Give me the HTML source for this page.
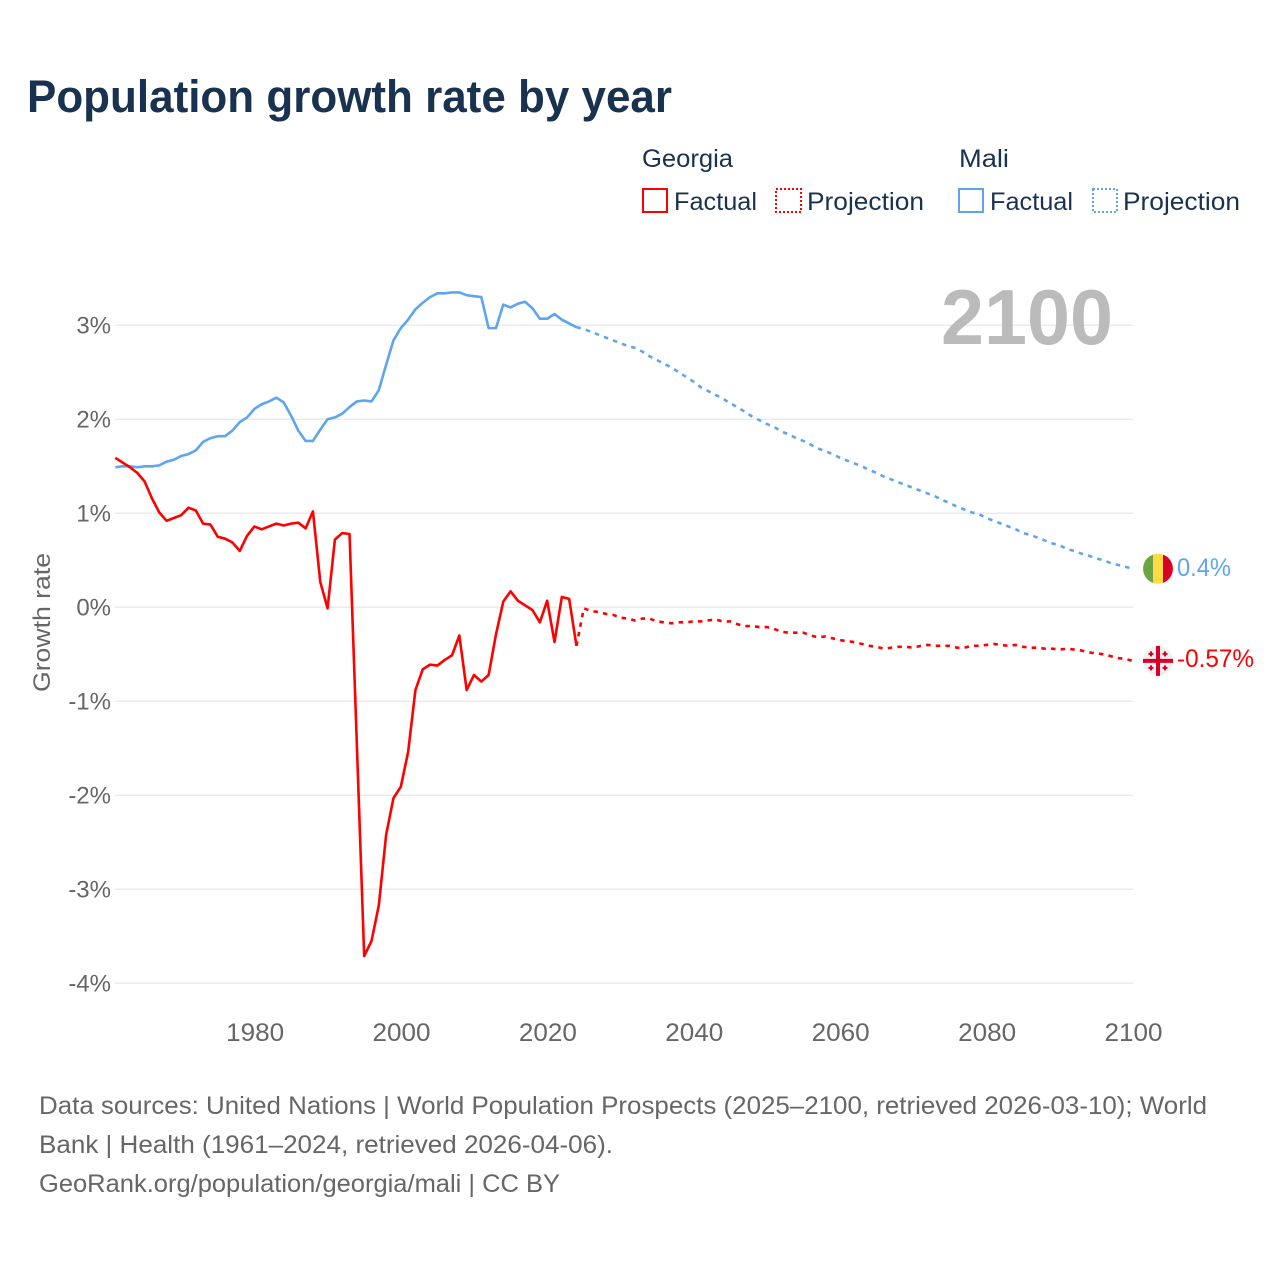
<!DOCTYPE html>
<html lang="en">
<head>
<meta charset="utf-8">
<title>Population growth rate by year</title>
<style>
html,body{margin:0;padding:0;background:#fff;}
svg{display:block;font-family:"Liberation Sans",sans-serif;}
</style>
</head>
<body>
<svg id="chart" width="1280" height="1280" viewBox="0 0 1280 1280" xmlns="http://www.w3.org/2000/svg">
  <rect x="0" y="0" width="1280" height="1280" fill="#ffffff"/>
  <text x="27" y="112" font-size="45" font-weight="bold" fill="#18324f" textLength="645" lengthAdjust="spacingAndGlyphs">Population growth rate by year</text>

  <g font-size="25" fill="#18324f">
    <text x="642" y="167" textLength="91" lengthAdjust="spacingAndGlyphs">Georgia</text>
    <text x="959" y="167" textLength="50" lengthAdjust="spacingAndGlyphs">Mali</text>
    <g>
      <rect x="643" y="189" width="24" height="23" fill="none" stroke="#ff0000" stroke-width="2"/>
      <text x="674" y="210" textLength="83" lengthAdjust="spacingAndGlyphs">Factual</text>
    </g>
    <g>
      <rect x="776" y="189" width="25" height="23" fill="none" stroke="#ff0000" stroke-width="2" stroke-dasharray="2 2"/>
      <text x="807" y="210" textLength="117" lengthAdjust="spacingAndGlyphs">Projection</text>
    </g>
    <g>
      <rect x="959" y="189" width="24" height="23" fill="none" stroke="#5fa5ee" stroke-width="2"/>
      <text x="990" y="210" textLength="83" lengthAdjust="spacingAndGlyphs">Factual</text>
    </g>
    <g>
      <rect x="1093" y="189" width="24" height="23" fill="none" stroke="#5fa5ee" stroke-width="2" stroke-dasharray="2 2"/>
      <text x="1123" y="210" textLength="117" lengthAdjust="spacingAndGlyphs">Projection</text>
    </g>
  </g>

  <g id="grid"></g>
  <g id="yLabels"></g>
  <g id="xLabels"></g>
  <text transform="translate(50 622.5) rotate(-90)" text-anchor="middle" font-size="24" fill="#666666" textLength="139" lengthAdjust="spacingAndGlyphs">Growth rate</text>
  <text x="941" y="344" font-size="78" font-weight="bold" fill="#bbbbbb" textLength="172" lengthAdjust="spacingAndGlyphs">2100</text>

  <g id="series"></g>
  <g id="ends"></g>

  <g font-size="25" fill="#666666">
    <text x="39" y="1114" textLength="1168" lengthAdjust="spacingAndGlyphs">Data sources: United Nations | World Population Prospects (2025–2100, retrieved 2026-03-10); World</text>
    <text x="39" y="1153" textLength="574" lengthAdjust="spacingAndGlyphs">Bank | Health (1961–2024, retrieved 2026-04-06).</text>
    <text x="39" y="1192" textLength="521" lengthAdjust="spacingAndGlyphs">GeoRank.org/population/georgia/mali | CC BY</text>
  </g>
</svg>
<script>
var yTickValues = [3, 2, 1, 0, -1, -2, -3, -4];
var xTickYears = [1980, 2000, 2020, 2040, 2060, 2080, 2100];
var factualStartYear = 1961;
var projectionStartYear = 2024;
var georgiaFactual = [
  1.59,1.54,1.49,1.43,1.34,1.16,1.01,0.92,0.95,0.98,
  1.06,1.03,0.89,0.88,0.75,0.73,0.69,0.60,0.76,0.86,
  0.83,0.86,0.89,0.87,0.89,0.90,0.84,1.02,0.27,-0.01,
  0.72,0.79,0.78,-1.46,-3.71,-3.55,-3.17,-2.42,-2.03,-1.91,
  -1.54,-0.88,-0.66,-0.61,-0.62,-0.56,-0.51,-0.30,-0.88,-0.72,
  -0.79,-0.72,-0.29,0.06,0.17,0.07,0.02,-0.03,-0.16,0.07,
  -0.37,0.11,0.09,-0.41
];
var georgiaProjection = [
  -0.41,-0.01,-0.04,-0.05,-0.07,-0.08,-0.11,-0.12,-0.14,-0.12,-0.12,
  -0.15,-0.16,-0.17,-0.16,-0.16,-0.15,-0.15,-0.14,-0.13,-0.15,
  -0.15,-0.18,-0.20,-0.20,-0.21,-0.21,-0.23,-0.26,-0.27,-0.27,
  -0.27,-0.30,-0.32,-0.31,-0.33,-0.35,-0.36,-0.37,-0.39,-0.41,
  -0.42,-0.44,-0.43,-0.42,-0.42,-0.43,-0.41,-0.40,-0.41,-0.41,
  -0.41,-0.43,-0.43,-0.41,-0.41,-0.40,-0.39,-0.40,-0.41,-0.40,
  -0.42,-0.43,-0.43,-0.44,-0.44,-0.45,-0.44,-0.45,-0.46,-0.48,
  -0.49,-0.50,-0.52,-0.54,-0.55,-0.57
];
var maliFactual = [
  1.49,1.50,1.50,1.49,1.50,1.50,1.51,1.55,1.57,1.61,
  1.63,1.67,1.76,1.80,1.82,1.82,1.88,1.97,2.02,2.11,
  2.16,2.19,2.23,2.18,2.04,1.88,1.77,1.77,1.89,2.00,
  2.02,2.06,2.13,2.19,2.20,2.19,2.31,2.58,2.84,2.97,
  3.06,3.17,3.24,3.30,3.34,3.34,3.35,3.35,3.32,3.31,
  3.30,2.97,2.97,3.22,3.19,3.23,3.25,3.18,3.07,3.07,
  3.12,3.06,3.02,2.98
];
var maliProjection = [
  2.98,2.96,2.93,2.90,2.87,2.84,2.81,2.78,2.76,2.72,2.67,
  2.63,2.59,2.55,2.50,2.45,2.40,2.34,2.30,2.26,2.22,
  2.17,2.13,2.08,2.03,1.99,1.95,1.92,1.87,1.84,1.80,
  1.77,1.73,1.69,1.66,1.63,1.59,1.56,1.53,1.50,1.46,
  1.43,1.39,1.36,1.33,1.30,1.27,1.24,1.21,1.18,1.14,
  1.11,1.07,1.04,1.01,0.99,0.95,0.92,0.89,0.86,0.83,
  0.79,0.77,0.74,0.71,0.68,0.66,0.62,0.60,0.57,0.55,
  0.52,0.50,0.47,0.45,0.43,0.41
];
var maliEndLabel = "0.4%";
var georgiaEndLabel = "-0.57%";

var NS = "http://www.w3.org/2000/svg";
var RED = "#ff0000";
var BLUE = "#5fa5ee";
function xScale(year) { return 115.3 + (year - 1961) * 7.32; }
function yScale(value) { return 607.3 - value * 94; }
function make(tag, attrs, parent) {
  var el = document.createElementNS(NS, tag);
  for (var k in attrs) { el.setAttribute(k, attrs[k]); }
  parent.appendChild(el);
  return el;
}
function pathFor(values, startYear) {
  var d = "";
  for (var i = 0; i < values.length; i++) {
    d += (i ? "L" : "M") + xScale(startYear + i).toFixed(2) + " " + yScale(values[i]).toFixed(2);
  }
  return d;
}

var gridGroup = document.getElementById("grid");
var yLabelGroup = document.getElementById("yLabels");
yTickValues.forEach(function (v) {
  var line = make("line", {x1: xScale(1961), x2: xScale(2100), y1: yScale(v), y2: yScale(v), stroke: "#ebebeb", "stroke-width": 1.5}, gridGroup);
  
  
  var label = make("text", {x: 111, y: yScale(v) + 8, "text-anchor": "end", "font-size": 24, fill: "#666666"}, yLabelGroup);
  
  
  label.textContent = v + "%";
});

var xLabelGroup = document.getElementById("xLabels");
xTickYears.forEach(function (yr) {
  var label = make("text", {x: xScale(yr) + 0.7, y: 1041, "text-anchor": "middle", "font-size": 25, fill: "#666666", textLength: 58, lengthAdjust: "spacingAndGlyphs"}, xLabelGroup);
  
  
  label.textContent = yr;
});

var seriesGroup = document.getElementById("series");
var common = {fill: "none", "stroke-width": 2.6, "stroke-linejoin": "round"};
function drawLine(values, startYear, colour, dashed) {
  var p = make("path", common, seriesGroup);
  p.setAttribute("d", pathFor(values, startYear));
  p.setAttribute("stroke", colour);
  if (dashed) { p.setAttribute("stroke-dasharray", "4.5 5.2"); }
  return p;
}
var maliActual = drawLine(maliFactual, factualStartYear, BLUE, false);


var maliProj = drawLine(maliProjection, projectionStartYear, BLUE, true);


var georgiaActual = drawLine(georgiaFactual, factualStartYear, RED, false);


var georgiaProj = drawLine(georgiaProjection, projectionStartYear, RED, true);



var ends = document.getElementById("ends");
var flagX = 1158;

// Mali flag, positioned at the last projected value
var maliY = yScale(maliProjection[maliProjection.length - 1]);
var maliFlag = make("g", {transform: "translate(" + flagX + " " + maliY + ")"}, ends);


make("circle", {r: 15, fill: "#ffda44"}, maliFlag);
make("path", {d: "M-5 -14.1A15 15 0 0 0 -5 14.1Z", fill: "#6da544"}, maliFlag);
make("path", {d: "M5 -14.1A15 15 0 0 1 5 14.1Z", fill: "#d80027"}, maliFlag);
var maliText = make("text", {x: 1177, y: maliY + 7, "font-size": 25, fill: BLUE, textLength: 54, lengthAdjust: "spacingAndGlyphs"}, ends);


maliText.textContent = maliEndLabel;

// Georgia flag, positioned at the last projected value
var georgiaY = yScale(georgiaProjection[georgiaProjection.length - 1]);
var georgiaFlag = make("g", {transform: "translate(" + flagX + " " + georgiaY + ")"}, ends);


make("circle", {r: 15, fill: "#f0f0f0"}, georgiaFlag);
make("rect", {x: -15, y: -2, width: 30, height: 4, fill: "#d80027"}, georgiaFlag);
make("rect", {x: -2, y: -15, width: 4, height: 30, fill: "#d80027"}, georgiaFlag);
[[-7, -7], [7, -7], [-7, 7], [7, 7]].forEach(function (o) {
  make("rect", {x: o[0] - 2.5, y: o[1] - 1, width: 5, height: 2, fill: "#d80027"}, georgiaFlag);
  make("rect", {x: o[0] - 1, y: o[1] - 2.5, width: 2, height: 5, fill: "#d80027"}, georgiaFlag);
});
var georgiaText = make("text", {x: 1177, y: georgiaY + 6, "font-size": 25, fill: RED, textLength: 77, lengthAdjust: "spacingAndGlyphs"}, ends);


georgiaText.textContent = georgiaEndLabel;
</script>
</body>
</html>
